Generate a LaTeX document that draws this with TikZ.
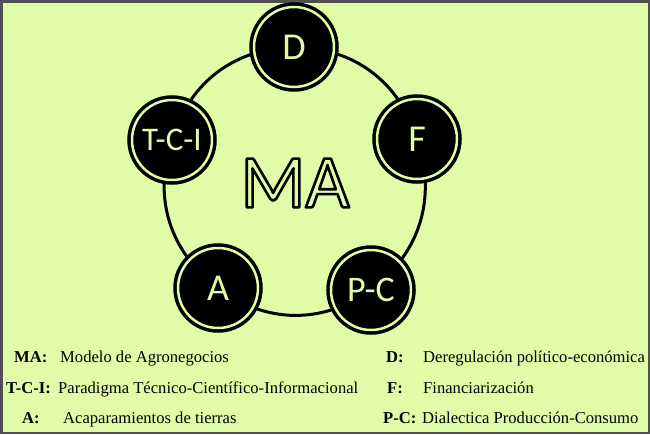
\documentclass[tikz,border=0pt]{standalone}
\usepackage{fontspec}
\setmainfont{Liberation Serif}
\newfontfamily\circfont{Carlito}
\usetikzlibrary{backgrounds}
\definecolor{agrogreen}{RGB}{224,252,166}
\definecolor{framegray}{RGB}{80,80,80}
% green letters with a black stroked outline
\newcommand{\hollow}[1]{\special{pdf:code q}{\color{agrogreen}\special{pdf:code 0 G 2 Tr 2.6 w 1 j}#1}\special{pdf:code Q}}
\tikzset{
  eje/.style={circle, fill=black, draw=black, line width=3.5pt, double=agrogreen,
    double distance=2.5pt, minimum size=80pt, inner sep=0pt, text=agrogreen,
    font=\circfont\fontsize{38}{38}\selectfont},
  clave/.style={anchor=base west, inner sep=0pt, font=\bfseries\fontsize{16.6}{18}\selectfont},
  texto/.style={anchor=base west, inner sep=0pt, font=\fontsize{16.6}{18}\selectfont}
}
\begin{document}
\begin{tikzpicture}[x=1pt,y=-1pt]
    % frame
    \draw[framegray, line width=2.5pt] (1.25,1.25) rectangle (648.75,432.75);
    % the five ejes
    \node[eje] (d) at (294,47) {D};
    \node[eje] (f) at (417,139) {F};
    \node[eje, font=\circfont\fontsize{36}{36}\selectfont] (pc) at (371,290) {P-C};
    \node[eje] (a) at (218,288) {A};
    \node[eje, font=\circfont\fontsize{33}{33}\selectfont] (tci) at (172,140) {T-C-I};
    \node[font=\circfont\fontsize{76}{76}\selectfont] (ma) at (295,183) {\hollow{MA}};
    \begin{scope}[on background layer]
        \fill[agrogreen] (0,0) rectangle (650,434);
        \draw[line width=3pt] (d.center) to[bend left=36] (f.center)
            to[bend left=36] (pc.center) to[bend left=36] (a.center)
            to[bend left=36] (tci.center) to[bend left=36] (d.center);
    \end{scope}
    % legend
    \node[clave] (kma) at (14,362) {MA:};
    \node[texto] (tma) at (60,362) {Modelo de Agronegocios};
    \node[clave] (ktci) at (6,393) {T-C-I:};
    \node[texto] (ttci) at (58,393) {Paradigma Técnico-Científico-Informacional};
    \node[clave] (ka) at (22,423) {A:};
    \node[texto] (ta) at (63,423) {Acaparamientos de tierras};
    \node[clave] (kd) at (386,362) {D:};
    \node[texto] (td) at (423,362) {Deregulación político-económica};
    \node[clave] (kf) at (387,393) {F:};
    \node[texto] (tf) at (423,393) {Financiarización};
    \node[clave] (kpc) at (383,423) {P-C:};
    \node[texto] (tpc) at (422,423) {Dialectica Producción-Consumo};
\end{tikzpicture}
\end{document}
